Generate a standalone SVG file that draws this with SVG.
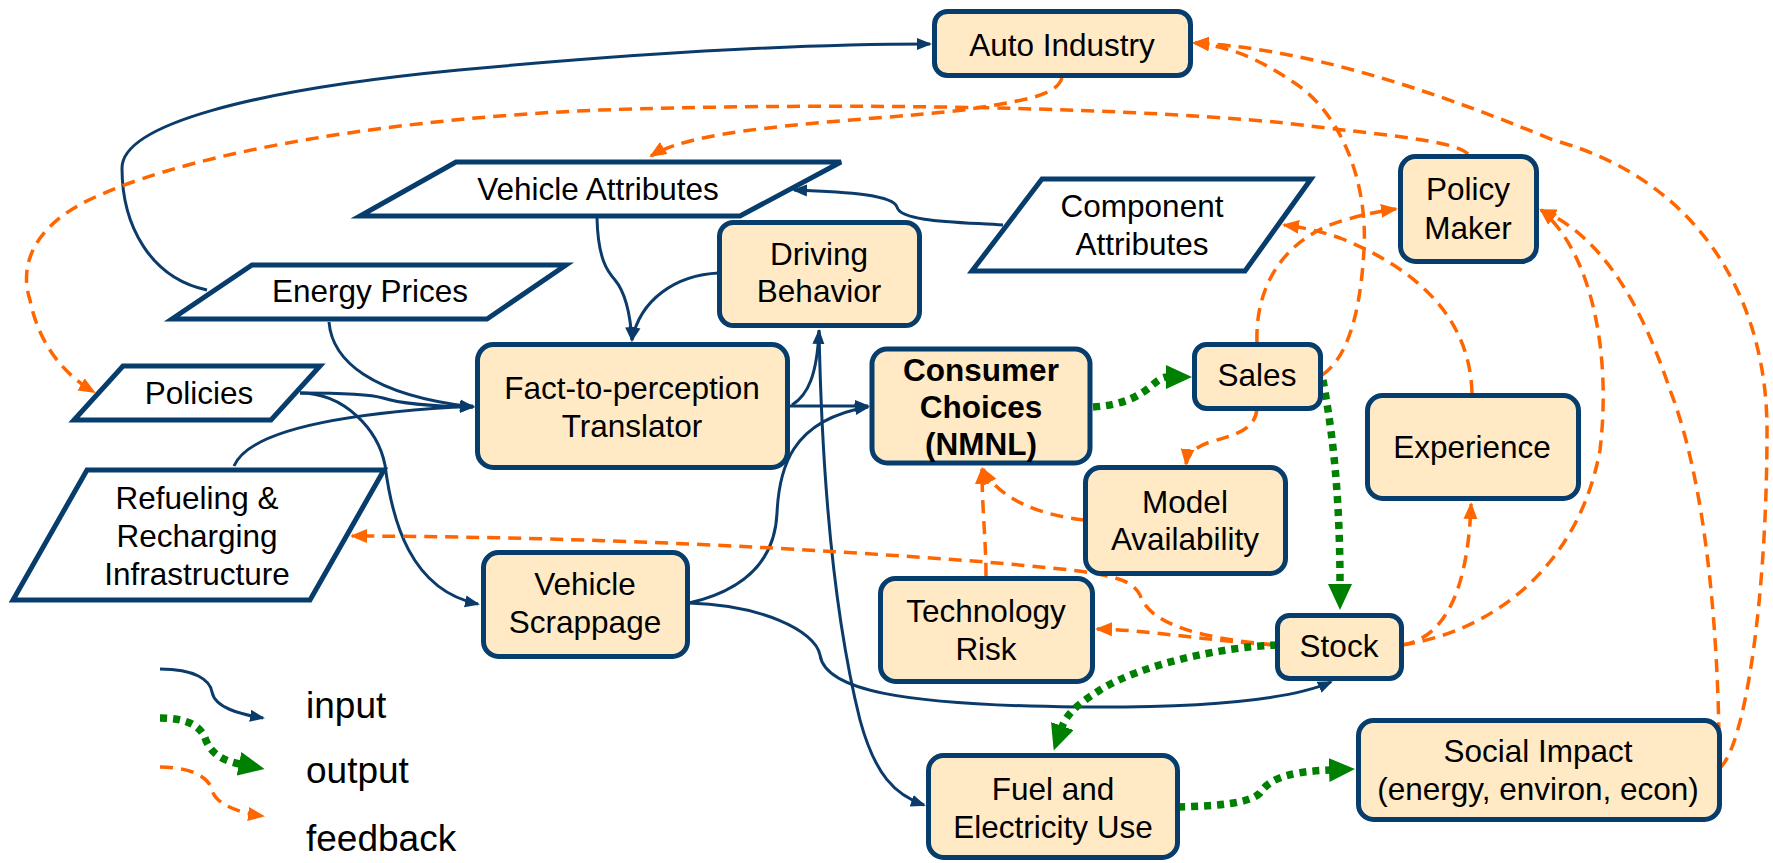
<svg xmlns="http://www.w3.org/2000/svg" width="1773" height="863" viewBox="0 0 1773 863">
<defs>
<style>
.box{fill:#FFEAC5;stroke:#073d6d;stroke-width:5}
.para{fill:#FFFFFF;stroke:#073d6d;stroke-width:5;stroke-linejoin:miter}
.t{font-family:"Liberation Sans",Arial,sans-serif;font-size:31.5px;fill:#000;text-anchor:middle}
.b{font-weight:bold}
.lg{font-family:"Liberation Sans",Arial,sans-serif;font-size:37px;fill:#000}
.in{fill:none;stroke:#0a3b6a;stroke-width:3}
.out{fill:none;stroke:#008000;stroke-width:7.5;stroke-dasharray:7 6}
.fb{fill:none;stroke:#FF6600;stroke-width:3.5;stroke-dasharray:13 8}
</style>
<marker id="ai" markerUnits="userSpaceOnUse" viewBox="0 0 16 14" markerWidth="16" markerHeight="14" refX="13" refY="7" orient="auto"><path d="M0,1 L15,7 L0,13 z" fill="#0a3b6a"/></marker>
<marker id="af" markerUnits="userSpaceOnUse" viewBox="0 0 18 16" markerWidth="18" markerHeight="16" refX="15" refY="8" orient="auto"><path d="M0,1 L17,8 L0,15 z" fill="#FF6600"/></marker>
<marker id="ao" markerUnits="userSpaceOnUse" viewBox="0 0 26 24" markerWidth="26" markerHeight="24" refX="1" refY="12" orient="auto"><path d="M0,0 L26,12 L0,24 z" fill="#008000"/></marker>
</defs>

<g id="connectors">
<!-- input -->
<path class="in" marker-end="url(#ai)" d="M207,290 C150,278 122,225 122,168 C122,125 250,90 459,70 C620,55 780,44 930,44"/>
<path class="in" marker-end="url(#ai)" d="M329,322 C332,360 370,395 473,407"/>
<path class="in" marker-end="url(#ai)" d="M300,393 C340,393 370,394 383,398 C395,402 420,406 473,407"/>
<path class="in" marker-end="url(#ai)" d="M234,466 C245,440 300,415 473,406"/>
<path class="in" marker-end="url(#ai)" d="M300,393 C345,393 378,430 385,465 C392,520 410,590 478,604"/>
<path class="in" marker-end="url(#ai)" d="M597,218 C598,260 608,272 615,280 C625,292 630,310 632,340"/>
<path class="in" marker-end="url(#ai)" d="M719,273 C675,275 640,300 632,340"/>
<path class="in" marker-end="url(#ai)" d="M1003,225 C960,222 900,222 897,207 C893,195 850,192 794,190"/>
<path class="in" marker-end="url(#ai)" d="M790,406 L868,406"/>
<path class="in" marker-end="url(#ai)" d="M792,405 C808,395 817,375 819,331"/>
<path class="in" marker-end="url(#ai)" d="M819,330 C822,480 835,620 860,720 C875,775 895,795 924,805"/>
<path class="in" marker-end="url(#ai)" d="M689,603 C745,590 775,560 777,513 C779,470 790,420 868,407"/>
<path class="in" marker-end="url(#ai)" d="M689,603 C760,605 815,630 820,655 C825,690 900,705 1077,707 C1200,708 1290,700 1331,682"/>
<!-- feedback -->
<path class="fb" marker-end="url(#af)" d="M1062,78 C1056,95 1030,100 963,110 C860,122 700,125 651,156"/>
<path class="fb" marker-end="url(#af)" d="M1468,154 C1455,140 1380,135 1285,123 C1100,105 800,103 600,110 C400,118 200,150 100,195 C28,225 20,270 30,300 C38,340 60,372 94,392"/>
<path class="fb" marker-end="url(#af)" d="M1257,342 C1255,280 1290,235 1345,220 C1365,214 1380,211 1396,209"/>
<path class="fb" marker-end="url(#af)" d="M1322,375 C1345,360 1360,320 1364,250 C1368,180 1340,110 1290,80 C1260,60 1230,46 1194,43"/>
<path class="fb" marker-end="url(#af)" d="M1720,768 C1745,745 1767,600 1767,430 C1767,300 1700,180 1553,140 C1420,85 1300,48 1194,43"/>
<path class="fb" marker-end="url(#af)" d="M1719,735 C1717,620 1705,480 1670,390 C1640,300 1600,235 1541,210"/>
<path class="fb" marker-end="url(#af)" d="M1402,645 C1500,630 1580,560 1600,450 C1612,350 1590,250 1541,210"/>
<path class="fb" marker-end="url(#af)" d="M1402,645 C1445,638 1468,590 1471,504"/>
<path class="fb" marker-end="url(#af)" d="M1472,393 C1470,320 1420,270 1340,238 C1320,231 1300,227 1284,225"/>
<path class="fb" marker-end="url(#af)" d="M1275,645 C1200,640 1150,630 1097,629"/>
<path class="fb" marker-end="url(#af)" d="M1275,645 C1200,638 1150,625 1140,595 C1130,575 1100,572 986,562 C800,548 600,537 352,536"/>
<path class="fb" marker-end="url(#af)" d="M986,576 C986,540 982,510 982,469"/>
<path class="fb" marker-end="url(#af)" d="M1084,520 C1040,515 1000,500 983,469"/>
<path class="fb" marker-end="url(#af)" d="M1257,409 C1255,430 1235,435 1210,442 C1195,447 1187,455 1186,464"/>
<!-- output -->
<path class="out" marker-end="url(#ao)" d="M1093,407 C1125,405 1140,395 1150,387 C1157,381 1162,377 1167,377"/>
<path class="out" marker-end="url(#ao)" d="M1323,380 C1330,420 1340,480 1340,585"/>
<path class="out" marker-end="url(#ao)" d="M1277,645 C1220,647 1140,665 1100,690 C1085,700 1068,710 1062,727"/>
<path class="out" marker-end="url(#ao)" d="M1178,807 C1220,806 1250,803 1260,793 C1268,782 1280,772 1330,770"/>
</g>

<g id="legend">
<path class="in" marker-end="url(#ai)" d="M160,669 C195,669 210,680 212,692 C215,708 240,714 263,718"/>
<path class="out" marker-end="url(#ao)" d="M160,718 C185,718 200,725 205,738 C210,752 220,760 240,764"/>
<path class="fb" marker-end="url(#af)" d="M160,767 C195,767 210,780 212,790 C216,805 240,813 263,816"/>
<text class="lg" x="306" y="718">input</text>
<text class="lg" x="306" y="783">output</text>
<text class="lg" x="306" y="851">feedback</text>
</g>

<g id="auto-industry"><rect class="box" x="934.5" y="11.5" width="256" height="64" rx="13"/><text class="t" x="1062" y="56">Auto Industry</text></g>
<g id="vehicle-attributes"><polygon class="para" points="456,162 841,162 740,216 360,216"/><text class="t" x="598" y="200">Vehicle Attributes</text></g>
<g id="energy-prices"><polygon class="para" points="252,265 566,265 487,319 172,319"/><text class="t" x="370" y="302">Energy Prices</text></g>
<g id="policies"><polygon class="para" points="123,366 320,366 271,420 74,420"/><text class="t" x="199" y="404">Policies</text></g>
<g id="refueling"><polygon class="para" points="87,470 384,470 310,600 13,600"/><text class="t" x="197" y="509">Refueling &amp;</text><text class="t" x="197" y="547">Recharging</text><text class="t" x="197" y="585">Infrastructure</text></g>
<g id="component-attributes"><polygon class="para" points="1042,179 1311,179 1245,271 972,271"/><text class="t" x="1142" y="217">Component</text><text class="t" x="1142" y="255">Attributes</text></g>
<g id="driving-behavior"><rect class="box" x="719.5" y="222.5" width="200" height="103" rx="14"/><text class="t" x="819" y="265">Driving</text><text class="t" x="819" y="302">Behavior</text></g>
<g id="fact-to-perception"><rect class="box" x="477.5" y="344.5" width="310" height="123" rx="16"/><text class="t" x="632" y="399">Fact-to-perception</text><text class="t" x="632" y="437">Translator</text></g>
<g id="consumer-choices"><rect class="box" x="872" y="349" width="218" height="114" rx="15"/><text class="t b" x="981" y="381">Consumer</text><text class="t b" x="981" y="418">Choices</text><text class="t b" x="981" y="455">(NMNL)</text></g>
<g id="sales"><rect class="box" x="1194.5" y="344.5" width="126" height="64" rx="12"/><text class="t" x="1257" y="386">Sales</text></g>
<g id="policy-maker"><rect class="box" x="1400.5" y="156.5" width="136" height="105" rx="15"/><text class="t" x="1468" y="200">Policy</text><text class="t" x="1468" y="239">Maker</text></g>
<g id="experience"><rect class="box" x="1367.5" y="395.5" width="211" height="103" rx="15"/><text class="t" x="1472" y="458">Experience</text></g>
<g id="model-availability"><rect class="box" x="1085.5" y="467.5" width="200" height="106" rx="15"/><text class="t" x="1185" y="513">Model</text><text class="t" x="1185" y="550">Availability</text></g>
<g id="technology-risk"><rect class="box" x="880.5" y="578.5" width="212" height="103" rx="15"/><text class="t" x="986" y="622">Technology</text><text class="t" x="986" y="660">Risk</text></g>
<g id="vehicle-scrappage"><rect class="box" x="483.5" y="552.5" width="204" height="104" rx="15"/><text class="t" x="585" y="595">Vehicle</text><text class="t" x="585" y="633">Scrappage</text></g>
<g id="stock"><rect class="box" x="1277.5" y="615.5" width="124" height="63" rx="12"/><text class="t" x="1339" y="657">Stock</text></g>
<g id="fuel-electricity"><rect class="box" x="928.5" y="755.5" width="249" height="102" rx="15"/><text class="t" x="1053" y="800">Fuel and</text><text class="t" x="1053" y="838">Electricity Use</text></g>
<g id="social-impact"><rect class="box" x="1358.5" y="720.5" width="361" height="99" rx="15"/><text class="t" x="1538" y="762">Social Impact</text><text class="t" x="1538" y="800">(energy, environ, econ)</text></g>
</svg>
